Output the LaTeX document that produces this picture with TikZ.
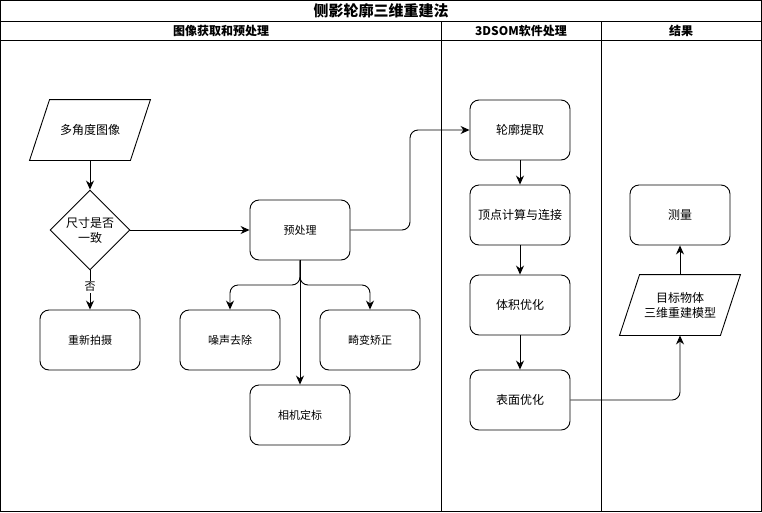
\documentclass[tikz,border=0pt]{standalone}
\usepackage{fontspec}
\setmainfont{Noto Sans CJK SC}
\usetikzlibrary{shapes.geometric,arrows.meta,calc}
\begin{document}
\begin{tikzpicture}[x=1pt,y=-1pt,
  line width=0.9pt,
  box/.style={draw,rounded corners=9pt,minimum width=100pt,minimum height=60pt,inner sep=0pt,font=\fontsize{11}{13}\selectfont},
  para/.style={minimum width=100pt,minimum height=60pt,inner sep=0pt,align=center,font=\fontsize{12}{15}\selectfont},
  dia/.style={draw,diamond,shape aspect=1,minimum width=80pt,minimum height=80pt,inner sep=0pt,align=center,font=\fontsize{12}{15}\selectfont},
  arr/.style={-{Stealth[length=9pt,width=8pt]},line width=0.9pt},
  conn/.style={arr,rounded corners=8pt},
  hdr/.style={font=\bfseries\fontsize{12}{14}\selectfont},
  ttl/.style={font=\bfseries\fontsize{15}{17}\selectfont}
]
\useasboundingbox (0,0) rectangle (762,512);
\fill[white] (0,0) rectangle (762,512);
% frame
\draw (0.5,0.5) rectangle (761.5,511.5);
\draw (0.5,21) -- (761.5,21);
\draw (0.5,40) -- (761.5,40);
\draw (441,21) -- (441,511.5);
\draw (601,21) -- (601,511.5);
\node[ttl] (title) at (381,11) {侧影轮廓三维重建法};
\node[hdr] (h1) at (221,30.5) {图像获取和预处理};
\node[hdr] (h2) at (521,30.5) {3DSOM软件处理};
\node[hdr] (h3) at (681,30.5) {结果};

% nodes
\node[para] (img) at (90,130) {多角度图像};
\draw ($(img.north west)+(10,0)$) -- ($(img.north east)+(10,0)$) -- ($(img.south east)+(-10,0)$) -- ($(img.south west)+(-10,0)$) -- cycle;
\node[dia] (chk) at (90,230) {尺寸是否\\一致};
\node[box] (re) at (90,340) {重新拍摄};
\node[box] (pre) at (300,230) {预处理};
\node[box] (noise) at (230,340) {噪声去除};
\node[box] (dist) at (370,340) {畸变矫正};
\node[box] (cam) at (300,415) {相机定标};
\node[box,font=\fontsize{12}{14}\selectfont] (contour) at (520,130) {轮廓提取};
\node[box,font=\fontsize{12}{14}\selectfont] (vert) at (520,215) {顶点计算与连接};
\node[box,font=\fontsize{12}{14}\selectfont] (vol) at (520,305) {体积优化};
\node[box,font=\fontsize{12}{14}\selectfont] (surf) at (520,400) {表面优化};
\node[box,font=\fontsize{12}{14}\selectfont] (meas) at (680,215) {测量};
\node[para] (model) at (680,305) {目标物体\\三维重建模型};
\draw ($(model.north west)+(10,0)$) -- ($(model.north east)+(10,0)$) -- ($(model.south east)+(-10,0)$) -- ($(model.south west)+(-10,0)$) -- cycle;

% connectors
\draw[arr] (img.south) -- (chk.north);
\draw[arr] (chk.south) -- node[fill=white,inner sep=1pt,font=\fontsize{11}{13}\selectfont,pos=0.42] (no) {否} (re.north);
\draw[arr] (chk.east) -- (pre.west);
\draw[conn] (pre.south) -- (300,285) -| (noise.north);
\draw[conn] (pre.south) -- (300,285) -| (dist.north);
\draw[arr] (pre.south) -- (cam.north);
\draw[conn] (pre.east) -| (410,130) -- (contour.west);
\draw[arr] (contour.south) -- (vert.north);
\draw[arr] (vert.south) -- (vol.north);
\draw[arr] (vol.south) -- (surf.north);
\draw[conn] (surf.east) -| (model.south);
\draw[arr] (model.north) -- (meas.south);
\end{tikzpicture}
\end{document}
